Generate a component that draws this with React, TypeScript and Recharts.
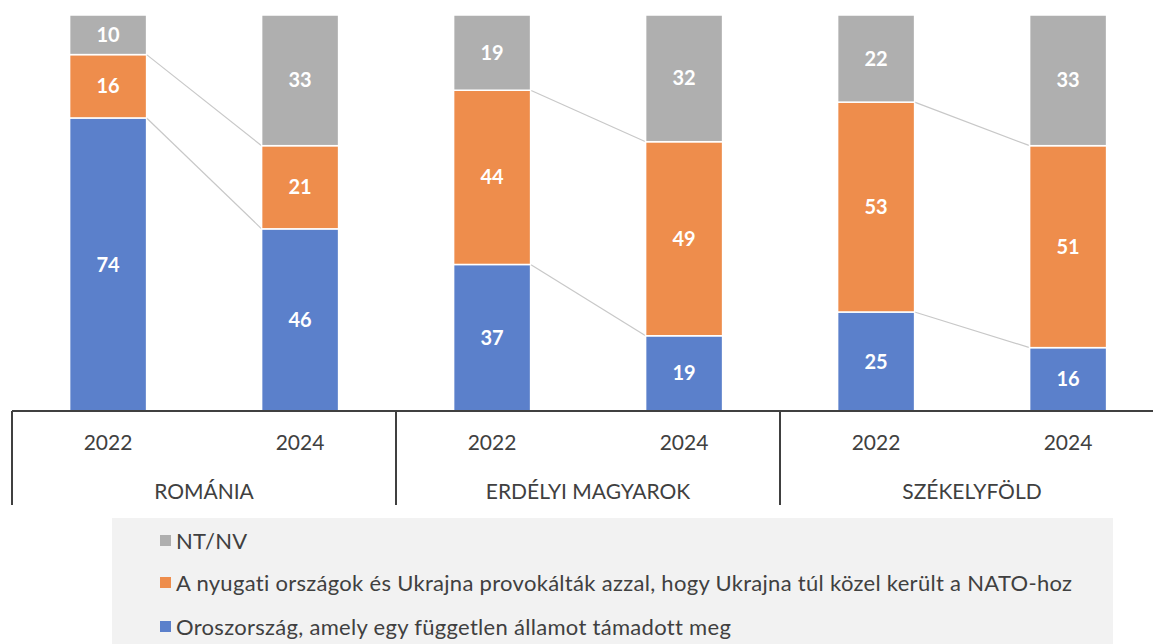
import React from "react";
import { BarChart, Bar, XAxis, YAxis, LabelList } from "recharts";

const years = ["2022", "2024", "2022", "2024", "2022", "2024"];
const groups = [
  "ROMÁNIA",
  "ROMÁNIA",
  "ERDÉLYI MAGYAROK",
  "ERDÉLYI MAGYAROK",
  "SZÉKELYFÖLD",
  "SZÉKELYFÖLD",
];
const russia = [74, 46, 37, 19, 25, 16];
const west = [16, 21, 44, 49, 53, 51];
const ntnv = [10, 33, 19, 32, 22, 33];

const SERIES = [
  { key: "russia", name: "Oroszország, amely egy független államot támadott meg", color: "#5B80CB" },
  { key: "west", name: "A nyugati országok és Ukrajna provokálták azzal, hogy Ukrajna túl közel került a NATO-hoz", color: "#EE8D4C" },
  { key: "nt", name: "NT/NV", color: "#AFAFAF" },
];

const data = years.map((year, i) => ({
  idx: i,
  year,
  group: groups[i],
  russia: russia[i],
  west: west[i],
  nt: ntnv[i],
}));

const FONT = "Lato, 'Open Sans', sans-serif";
const CHART_W = 1165;
const MARGIN = { top: 15, right: 1, left: 12, bottom: 133 };
const BAND = (CHART_W - MARGIN.left - MARGIN.right) / data.length;
const AXIS_COLOR = "#404040";

// segment shape; for 2022 bars also draws the connector to the 2024 bar of the same group
function makeShape(seriesIndex: number, color: string) {
  return (props: any) => {
    const { x, y, width, height, index } = props;
    const keys = ["russia", "west", "nt"] as const;
    const row: any = data[index];
    const next: any = data[index + 1];
    let connector = null;
    if (index % 2 === 0 && next && seriesIndex < 2) {
      const val = row[keys[seriesIndex]];
      const ppu = height / val;
      let below = 0;
      for (let k = 0; k < seriesIndex; k++) below += row[keys[k]];
      const base = y + height + below * ppu;
      let nextCum = 0;
      for (let k = 0; k <= seriesIndex; k++) nextCum += next[keys[k]];
      const ny = base - nextCum * ppu;
      connector = (
        <line x1={x + width} y1={y} x2={x + BAND} y2={ny} stroke="#C8C8C8" strokeWidth={1.2} />
      );
    }
    return (
      <g>
        <rect x={x} y={y} width={width} height={height} fill={color} stroke="#fff" strokeWidth={1.5} />
        {connector}
      </g>
    );
  };
}

const AxisTick = (props: any) => {
  const { x, y, payload } = props;
  const i = Number(payload.value);
  const row = data[i];
  return (
    <g>
      <text
        x={x}
        y={y + 30}
        textAnchor="middle"
        dominantBaseline="central"
        fill={AXIS_COLOR}
        fontSize={21}
        fontFamily={FONT}
      >
        {row.year}
      </text>
      {i % 2 === 0 && (
        <>
          <line x1={x - BAND / 2} y1={y} x2={x - BAND / 2} y2={y + 94} stroke={AXIS_COLOR} strokeWidth={2} />
          <text
            x={x + BAND / 2}
            y={y + 79}
            textAnchor="middle"
            dominantBaseline="central"
            fill={AXIS_COLOR}
            fontSize={21}
            fontFamily={FONT}
          >
            {row.group}
          </text>
        </>
      )}
      {i === data.length - 1 && (
        <line x1={x + BAND / 2} y1={y} x2={x + BAND / 2} y2={y + 94} stroke={AXIS_COLOR} strokeWidth={2} />
      )}
    </g>
  );
};

export default function App() {
  const legendItems = [...SERIES].reverse();
  return (
    <div
      style={{
        position: "relative",
        width: 1153,
        height: 644,
        overflow: "hidden",
        fontFamily: FONT,
        background: "#fff",
      }}
    >
      <style>{"body{margin:0;overflow:hidden}"}</style>
      <BarChart width={CHART_W} height={644} data={data} margin={MARGIN} barCategoryGap="30%">
        <XAxis
          dataKey="idx"
          interval={0}
          height={100}
          tickSize={0}
          tickMargin={0}
          tickLine={false}
          axisLine={{ stroke: AXIS_COLOR, strokeWidth: 2 }}
          tick={<AxisTick />}
        />
        <YAxis hide domain={[0, 100]} />
        {SERIES.map((s, si) => (
          <Bar
            key={s.key}
            dataKey={s.key}
            name={s.name}
            stackId="a"
            fill={s.color}
            isAnimationActive={false}
            shape={makeShape(si, s.color)}
          >
            <LabelList
              dataKey={s.key}
              position="center"
              fill="#fff"
              fontSize={20}
              fontWeight="bold"
              fontFamily={FONT}
            />
          </Bar>
        ))}
      </BarChart>
      <div
        style={{
          position: "absolute",
          left: 112,
          top: 518,
          width: 1001,
          height: 126,
          background: "#F2F2F2",
        }}
      >
        {legendItems.map((s, i) => (
          <div
            key={s.key}
            style={{
              position: "absolute",
              left: 48,
              top: [22, 64, 108][i] - 13,
              height: 26,
              display: "flex",
              alignItems: "center",
              whiteSpace: "nowrap",
              color: AXIS_COLOR,
              fontSize: 22,
              letterSpacing: 0.3,
            }}
          >
            <span style={{ width: 11, height: 11, background: s.color, marginRight: 5, display: "inline-block" }} />
            {s.name}
          </div>
        ))}
      </div>
    </div>
  );
}
